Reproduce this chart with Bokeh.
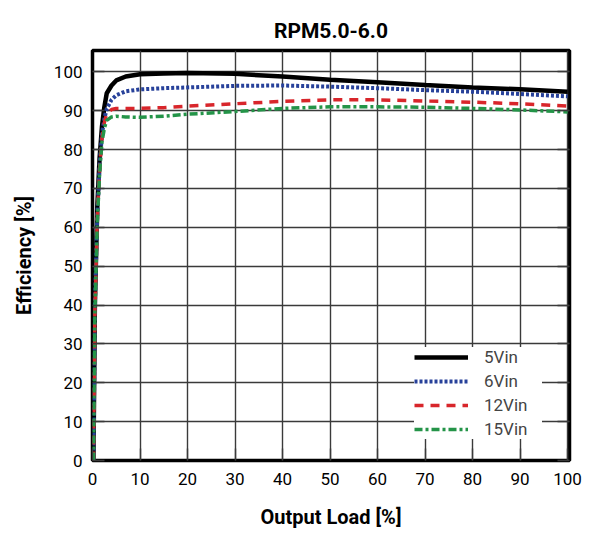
from bokeh.plotting import figure
from bokeh.models import Legend, LegendItem, LinearAxis, FixedTicker
from bokeh.embed import file_html
from bokeh.resources import INLINE

# Output load [%] and efficiency [%]
load = [0.2, 0.5, 1, 1.5, 2, 2.5, 3, 4, 5, 7, 10, 15, 20, 30, 40, 50, 60, 70, 80, 90, 100]
eff_5vin = [0, 40, 65, 78, 86, 91, 94.5, 96.5, 97.8, 98.8, 99.4, 99.6, 99.7, 99.5, 98.8, 98.0, 97.3, 96.6, 96.0, 95.5, 94.9]
eff_6vin = [0, 40, 63, 76, 84, 88, 90.5, 92.8, 94.0, 95.0, 95.5, 95.8, 96.0, 96.4, 96.5, 96.2, 95.8, 95.3, 94.9, 94.3, 93.7]
eff_12vin = [0, 38, 62, 75, 83, 87, 89.3, 90.3, 90.6, 90.6, 90.6, 90.8, 91.2, 91.8, 92.4, 92.8, 92.8, 92.5, 92.2, 91.8, 91.2]
eff_15vin = [0, 38, 61, 74, 82, 85.5, 87.5, 88.4, 88.6, 88.4, 88.3, 88.6, 89.1, 89.8, 90.6, 91.0, 91.0, 90.9, 90.6, 90.2, 89.7]
labels = ["5Vin", "6Vin", "12Vin", "15Vin"]
ticks = [0, 10, 20, 30, 40, 50, 60, 70, 80, 90, 100]

FONT = "Roboto"
GRID = "#3a3a3a"

p = figure(width=598, height=538, x_range=(0, 100.4), y_range=(0, 105.5),
           output_backend="svg", toolbar_location=None,
           min_border_left=92, min_border_right=29, min_border_top=50, min_border_bottom=78,
           title="RPM5.0-6.0")
p.title.align = "center"
p.title.text_font = FONT
p.title.text_font_size = "21px"
p.title.text_font_style = "bold"
p.title.text_color = "black"
p.title.standoff = 16

p.outline_line_color = "black"
p.outline_line_width = 3.5
p.background_fill_color = "white"

p.xgrid.ticker = FixedTicker(ticks=ticks)
p.ygrid.ticker = FixedTicker(ticks=ticks)
p.grid.grid_line_color = GRID
p.grid.grid_line_width = 1.4

for ax in p.axis:
    ax.ticker = FixedTicker(ticks=ticks)
    ax.axis_line_color = None
    ax.major_tick_in = 12
    ax.major_tick_out = 0
    ax.major_tick_line_color = GRID
    ax.major_tick_line_width = 1.4
    ax.minor_tick_line_color = None
    ax.major_label_text_font = FONT
    ax.major_label_text_font_size = "17px"
    ax.major_label_text_color = "black"
    ax.axis_label_text_font = FONT
    ax.axis_label_text_font_size = "20px"
    ax.axis_label_text_font_style = "bold"
    ax.axis_label_text_color = "black"

p.xaxis.axis_label = "Output Load [%]"
p.yaxis.axis_label = "Efficiency [%]"
p.xaxis.major_label_standoff = 12
p.yaxis.major_label_standoff = 10
p.xaxis.axis_label_standoff = 17
p.yaxis.axis_label_standoff = 15

right = LinearAxis(ticker=FixedTicker(ticks=ticks), axis_line_color=None,
                   major_tick_in=12, major_tick_out=0,
                   major_tick_line_color=GRID, major_tick_line_width=1.4,
                   minor_tick_line_color=None,
                   major_label_overrides={t: "" for t in ticks})
p.add_layout(right, "right")

r5 = p.line(load, eff_5vin, line_color="black", line_width=4.5)
r6 = p.line(load, eff_6vin, line_color="#27419a", line_width=4, line_dash="3 2")
r12 = p.line(load, eff_12vin, line_color="#d8262b", line_width=3.5, line_dash="9 7")
r15 = p.line(load, eff_15vin, line_color="#249448", line_width=3.5, line_dash="8 3 3 3")

legend = Legend(items=[LegendItem(label=l, renderers=[r]) for l, r in zip(labels, [r5, r6, r12, r15])],
                location=(322, 21), glyph_width=54, glyph_height=20, label_height=20,
                label_width=58, label_standoff=16, spacing=4, padding=8, border_line_color=None,
                background_fill_color="white", background_fill_alpha=1,
                label_text_font=FONT, label_text_font_size="17px")
p.add_layout(legend, "center")

open("out.html", "w").write(file_html(p, INLINE))
